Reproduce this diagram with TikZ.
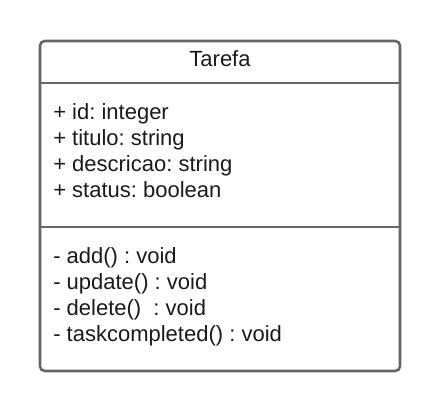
\documentclass[tikz,border=0pt]{standalone}
\usepackage{fontspec}
\setmainfont{Liberation Sans}
\frenchspacing
\definecolor{edge}{HTML}{666666}
\definecolor{txt}{HTML}{1A1A1A}
\begin{document}
\begin{tikzpicture}[x=0.75pt,y=-0.75pt,
  member/.style={anchor=base west,inner sep=0pt,font=\fontsize{16.5pt}{19pt}\selectfont\frenchspacing,text=txt},
  title/.style={anchor=base,inner sep=0pt,font=\fontsize{16.5pt}{19pt}\selectfont,text=txt},
  frame/.style={draw=edge,line width=1.9pt,rounded corners=3.5pt},
  sep/.style={draw=edge,line width=1.9pt}]
\useasboundingbox (0,0) rectangle (440,411);
\draw[frame] (40,41) rectangle (400,371);
\coordinate (s1l) at (40,83); \coordinate (s1r) at (400,83);
\coordinate (s2l) at (40,227); \coordinate (s2r) at (400,227);
\draw[sep] (s1l) -- (s1r);
\draw[sep] (s2l) -- (s2r);
\node[title] (t) at (220,66) {Tarefa};
\node[member] (a1) at (53,119) {+ id: integer};
\node[member] (a2) at (53,145) {+ titulo: string};
\node[member] (a3) at (53,171) {+ descricao: string};
\node[member] (a4) at (53,197) {+ status: boolean};
\node[member] (m1) at (53,263) {- add() : void};
\node[member] (m2) at (53,289) {- update() : void};
\node[member] (m3) at (53,315) {- delete()\ \ : void};
\node[member] (m4) at (53,341) {- taskcompleted() : void};
\end{tikzpicture}
\end{document}
